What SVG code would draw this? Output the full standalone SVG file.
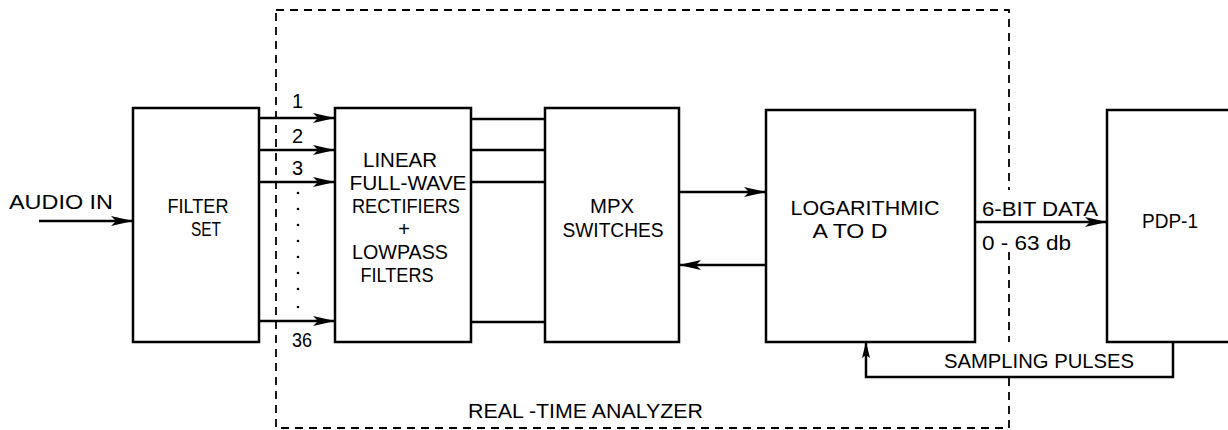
<svg xmlns="http://www.w3.org/2000/svg" width="1228" height="430" viewBox="0 0 1228 430">
<style>
.box{fill:none;stroke:#000;stroke-width:2.5}
.ln{fill:none;stroke:#000;stroke-width:2.5}
.dash{fill:none;stroke:#000;stroke-width:1.8;stroke-dasharray:8 6}
.dot{fill:#000}
text{font-family:"Liberation Sans",Arial,sans-serif;font-size:20px;fill:#000}
.c{text-anchor:middle}
</style>
<defs>
<marker id="ah" markerUnits="userSpaceOnUse" markerWidth="24" markerHeight="12" refX="22" refY="5" orient="auto">
<path d="M0,0 L22,5 L0,10 L5,5 z" fill="#000"/>
</marker>
<marker id="ahs" markerUnits="userSpaceOnUse" markerWidth="18" markerHeight="10" refX="16" refY="4" orient="auto">
<path d="M0,0 L16,4 L0,8 L3,4 z" fill="#000"/>
</marker>
</defs>
<rect width="1228" height="430" fill="#fff"/>

<g id="analyzer-boundary">
<path class="dash" d="M276,10 H1009 V190 M1009,252 V342 M1009,378 V428 H276 V10"/>
<text x="468" y="418" textLength="235" lengthAdjust="spacingAndGlyphs">REAL -TIME ANALYZER</text>
</g>

<g id="filter-set">
<rect class="box" x="133" y="108" width="126" height="234"/>
<text class="c" x="198" y="213" textLength="61" lengthAdjust="spacingAndGlyphs">FILTER</text>
<text class="c" x="206" y="236" textLength="30" lengthAdjust="spacingAndGlyphs">SET</text>
</g>

<g id="rectifiers">
<rect class="box" x="335" y="108" width="136" height="234"/>
<text class="c" x="400" y="167" textLength="74" lengthAdjust="spacingAndGlyphs">LINEAR</text>
<text class="c" x="408" y="190" textLength="117" lengthAdjust="spacingAndGlyphs">FULL-WAVE</text>
<text class="c" x="406" y="213" textLength="108" lengthAdjust="spacingAndGlyphs">RECTIFIERS</text>
<text class="c" x="404" y="236">+</text>
<text class="c" x="400" y="259" textLength="96" lengthAdjust="spacingAndGlyphs">LOWPASS</text>
<text class="c" x="397" y="282" textLength="73" lengthAdjust="spacingAndGlyphs">FILTERS</text>
</g>

<g id="mpx-switches">
<rect class="box" x="545" y="108" width="134" height="234"/>
<text class="c" x="612" y="213" textLength="44" lengthAdjust="spacingAndGlyphs">MPX</text>
<text class="c" x="613" y="237" textLength="101" lengthAdjust="spacingAndGlyphs">SWITCHES</text>
</g>

<g id="log-a-to-d">
<rect class="box" x="766" y="110" width="209" height="232"/>
<text class="c" x="865" y="215" textLength="149" lengthAdjust="spacingAndGlyphs">LOGARITHMIC</text>
<text class="c" x="850" y="238" textLength="75" lengthAdjust="spacingAndGlyphs">A TO D</text>
</g>

<g id="pdp-1">
<path class="box" d="M1232,110 H1107 V342 H1232"/>
<text x="1142" y="228" textLength="56" lengthAdjust="spacingAndGlyphs">PDP-1</text>
</g>

<g id="connectors">
<line class="ln" x1="39" y1="221" x2="133" y2="221" marker-end="url(#ah)"/>
<text x="9" y="209" textLength="104" lengthAdjust="spacingAndGlyphs">AUDIO IN</text>

<line class="ln" x1="259" y1="118" x2="335" y2="118" marker-end="url(#ah)"/>
<line class="ln" x1="259" y1="150" x2="335" y2="150" marker-end="url(#ah)"/>
<line class="ln" x1="259" y1="182" x2="335" y2="182" marker-end="url(#ah)"/>
<line class="ln" x1="259" y1="321" x2="335" y2="321" marker-end="url(#ah)"/>
<text x="292" y="108">1</text>
<text x="292" y="143">2</text>
<text x="292" y="175">3</text>
<text x="292" y="347" textLength="20" lengthAdjust="spacingAndGlyphs">36</text>
<g class="dot">
<circle cx="298" cy="193" r="1.3"/><circle cx="298" cy="209" r="1.3"/><circle cx="298" cy="225" r="1.3"/><circle cx="298" cy="241" r="1.3"/><circle cx="298" cy="257" r="1.3"/><circle cx="298" cy="273" r="1.3"/><circle cx="298" cy="289" r="1.3"/><circle cx="298" cy="307" r="1.3"/>
</g>

<line class="ln" x1="471" y1="119" x2="545" y2="119"/>
<line class="ln" x1="471" y1="150" x2="545" y2="150"/>
<line class="ln" x1="471" y1="182" x2="545" y2="182"/>
<line class="ln" x1="471" y1="322" x2="545" y2="322"/>

<line class="ln" x1="679" y1="192" x2="766" y2="192" marker-end="url(#ah)"/>
<line class="ln" x1="766" y1="265" x2="679" y2="265" marker-end="url(#ah)"/>

<line class="ln" x1="975" y1="222" x2="1107" y2="222" marker-end="url(#ah)"/>
<text x="982" y="216" textLength="116" lengthAdjust="spacingAndGlyphs">6-BIT DATA</text>
<text x="982" y="250" textLength="89" lengthAdjust="spacingAndGlyphs">0 - 63 db</text>

<path class="ln" d="M1173,342 V377 H866 V342" marker-end="url(#ahs)"/>
<text x="944" y="368" textLength="190" lengthAdjust="spacingAndGlyphs">SAMPLING PULSES</text>
</g>
</svg>
